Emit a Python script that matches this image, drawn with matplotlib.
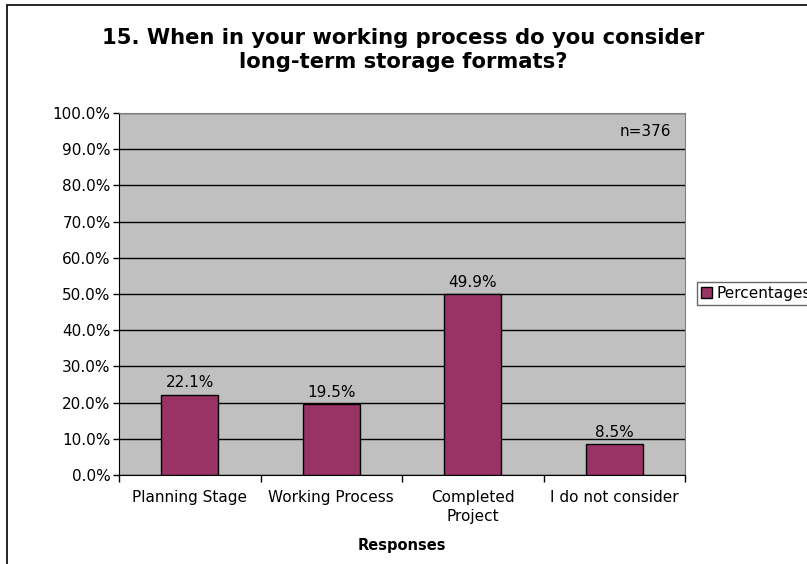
import numpy as np
import matplotlib.pyplot as plt
from matplotlib.patches import Rectangle

categories = ["Planning Stage", "Working Process", "Completed\nProject", "I do not consider"]
values = [22.1, 19.5, 49.9, 8.5]
yticks = np.arange(0, 101, 10)
n_label = "n=376"

W, H = 807, 564
fig = plt.figure(figsize=(W / 100, H / 100), dpi=100)
plt.rcParams['font.family'] = ['DejaVu Sans']

# outer chart frame (right/bottom run off the canvas)
fig.patches.append(Rectangle((7 / W, -0.1), 1.2, (564 - 5) / H + 0.1,
                             transform=fig.transFigure, fill=False,
                             edgecolor='black', linewidth=1.2))

ax = fig.add_axes([119 / W, 1 - 475 / H, (685 - 119) / W, (475 - 113) / H])
ax.set_facecolor('#C0C0C0')

x = np.arange(len(categories))
ax.bar(x, values, width=0.4, color='#993366', edgecolor='black', linewidth=1, zorder=3)
for xi, v in zip(x, values):
    ax.text(xi, v + 1.3, f"{v:.1f}%", ha='center', va='bottom', fontsize=11)

ax.set_xlim(-0.5, len(categories) - 0.5)
ax.set_ylim(0, 100)
ax.set_yticks(yticks)
ax.set_yticklabels([f"{t:.1f}%" for t in yticks], fontsize=11)
ax.yaxis.grid(True, color='black', linewidth=1, zorder=1)
ax.set_axisbelow(True)

ax.set_xticks(x)
ax.set_xticklabels(categories, fontsize=11, linespacing=1.3)
ax.tick_params(axis='x', length=0, pad=11)
ax.set_xticks(np.arange(-0.5, len(categories)), minor=True)
ax.tick_params(axis='x', which='minor', length=5, width=1)
ax.tick_params(axis='y', length=4, width=1, pad=2)

ax.spines['left'].set_color('black')
ax.spines['bottom'].set_color('black')
ax.spines['top'].set_color('#808080')
ax.spines['right'].set_color('#808080')

ax.set_xlabel("Responses", fontsize=10.5, fontweight='bold', labelpad=10)
ax.text(0.93, 0.95, n_label, transform=ax.transAxes, ha='center', va='center', fontsize=11)

fig.text(0.5, 1 - 50 / H, "15. When in your working process do you consider\nlong-term storage formats?",
         ha='center', va='center', fontsize=15.2, fontweight='bold', linespacing=1.2)

# legend (runs past the right edge of the canvas)
leg = fig.legend([Rectangle((0, 0), 1, 1, facecolor='#993366', edgecolor='black')], ["Percentages"],
                 loc='upper left', bbox_to_anchor=(697 / W, 1 - 282 / H), frameon=True,
                 fancybox=False, fontsize=11, handlelength=0.7, handleheight=0.7,
                 handletextpad=0.3, borderpad=0.25, borderaxespad=0)
leg.get_frame().set_edgecolor('#404040')
leg.get_frame().set_linewidth(1)

fig.savefig("out.png", dpi=100)
